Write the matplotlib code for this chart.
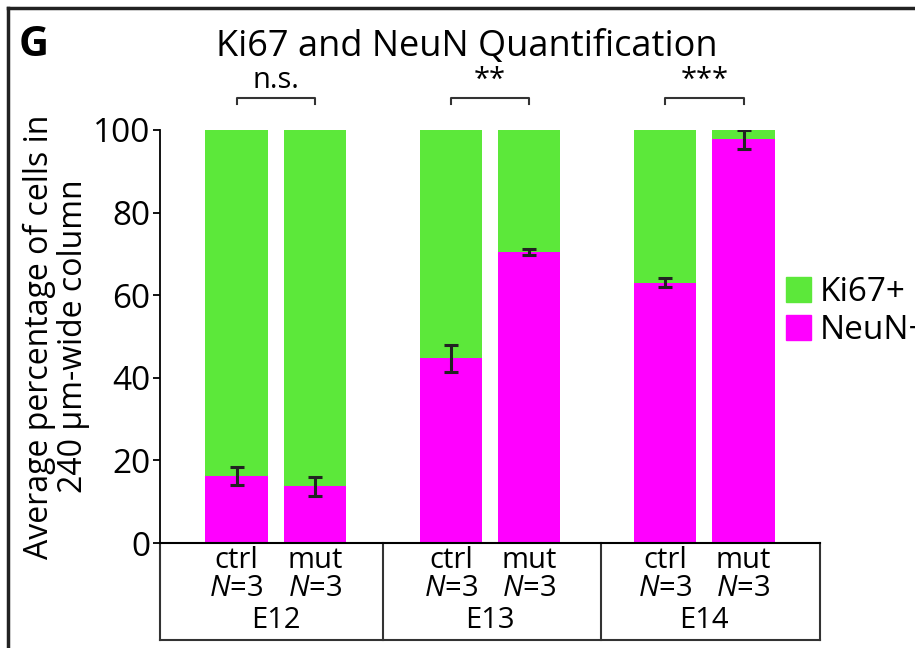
import numpy as np
import matplotlib
matplotlib.use('Agg')
import matplotlib.pyplot as plt
from matplotlib.lines import Line2D
from matplotlib.patches import Patch
import matplotlib.transforms as mtransforms

plt.rcParams['font.family'] = ['Open Sans', 'DejaVu Sans']
plt.rcParams['mathtext.fontset'] = 'custom'
plt.rcParams['mathtext.it'] = 'Open Sans:italic'
plt.rcParams['mathtext.rm'] = 'Open Sans'

# data
groups = ['E12', 'E13', 'E14']
conditions = ['ctrl', 'mut']
neun = [16.2, 13.8, 44.7, 70.4, 63.0, 97.7]   # NeuN+ (%)
neun_err = [2.2, 2.3, 3.3, 0.7, 1.1, 2.2]
ki67 = [100 - v for v in neun]                 # Ki67+ fills up to 100
signif = ['n.s.', '**', '***']

green = '#5ce83a'
magenta = '#ff00ff'

fig = plt.figure(figsize=(9.15, 6.48), dpi=100)
ax = fig.add_axes([160 / 915, 105 / 648, 660 / 915, 413 / 648])

off = 0.183
xs = []
for g in range(len(groups)):
    xs += [g - off, g + off]
xs = np.array(xs)
w = 0.29

ax.bar(xs, neun, w, color=magenta, zorder=2)
ax.bar(xs, ki67, w, bottom=neun, color=green, zorder=2)
ax.errorbar(xs, neun, yerr=neun_err, fmt='none', ecolor='#222222',
            elinewidth=2.2, capsize=4.8, capthick=2.2, zorder=3)

ax.set_xlim(-0.54, 2.54)
ax.set_ylim(0, 100)
ax.set_yticks([0, 20, 40, 60, 80, 100])
ax.tick_params(axis='y', labelsize=24, length=5, width=1.3, pad=2)
ax.set_xticks([])
for s in ['top', 'right']:
    ax.spines[s].set_visible(False)
ax.spines['left'].set_linewidth(1.3)
ax.spines['bottom'].set_linewidth(1.5)

ax.set_ylabel('Average percentage of cells in\n240 µm-wide column', fontsize=23,
              linespacing=1.05, labelpad=2)

# category box under the axis
trans = mtransforms.blended_transform_factory(ax.transData, ax.transAxes)
ybot = -0.235
for xv in [-0.54, 0.502, 1.516, 2.54]:
    ax.add_line(Line2D([xv, xv], [0, ybot], transform=trans, color='#333333',
                       lw=1.5, clip_on=False))
ax.add_line(Line2D([-0.54, 2.54], [ybot, ybot], transform=trans, color='#333333',
                   lw=1.5, clip_on=False))
for i, x in enumerate(xs):
    ax.text(x, -0.008, conditions[i % 2] + '\n' + r'$\it{N}$=3', transform=trans,
            ha='center', va='top', fontsize=21, linespacing=0.95)
for g, name in enumerate(groups):
    ax.text(g, -0.152, name, transform=trans, ha='center', va='top', fontsize=21)

# significance brackets
for g, lab in enumerate(signif):
    x0, x1 = g - off, g + off
    ax.plot([x0, x0, x1, x1], [106.3, 107.8, 107.8, 106.3], color='#333333',
            lw=1.5, clip_on=False)
    ax.text(g, 108.4, lab, ha='center', va='bottom', fontsize=21)

fig.text(467 / 915, 1 - 47 / 648, 'Ki67 and NeuN Quantification', ha='center',
         va='center', fontsize=26)
fig.text(19 / 915, 1 - 45 / 648, 'G', ha='left', va='center', fontsize=30,
         fontweight='bold')

handles = [Patch(color=green, label='Ki67+'), Patch(color=magenta, label='NeuN+')]
fig.legend(handles=handles, loc='upper left', bbox_to_anchor=(786 / 915, 1 - 276 / 648),
           frameon=False, fontsize=24, handlelength=0.75, handleheight=0.75,
           handletextpad=0.25, labelspacing=0.15, borderaxespad=0, borderpad=0)

# panel frame (top and left)
fig.add_artist(Line2D([8 / 915, 1], [1 - 8 / 648, 1 - 8 / 648], color='#222222', lw=2.5))
fig.add_artist(Line2D([8 / 915, 8 / 915], [0, 1 - 8 / 648], color='#222222', lw=2.5))

fig.savefig('out.png', dpi=100)
